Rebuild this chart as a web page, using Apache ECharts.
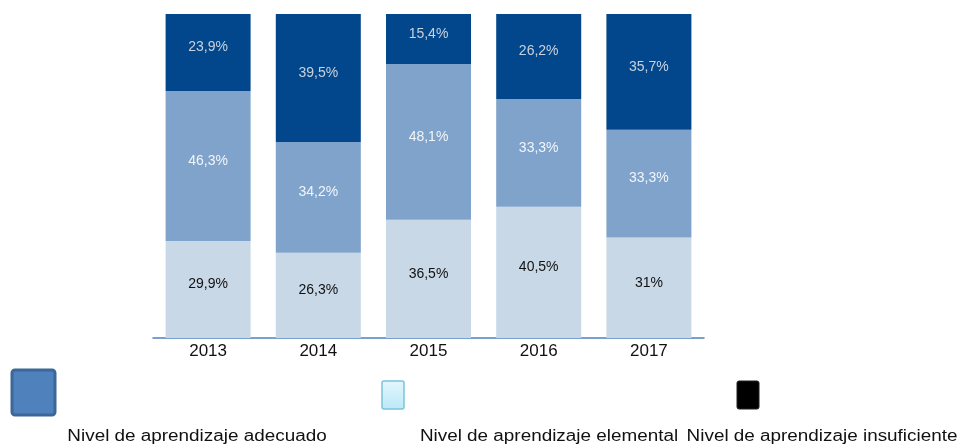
<!DOCTYPE html>
<html>
<head>
<meta charset="utf-8">
<script src="https://cdn.jsdelivr.net/npm/echarts@6/dist/echarts.min.js"></script>
<style>
  body { margin: 0; background: #fff; }
  #chart { width: 957px; height: 445px; }
</style>
</head>
<body>
<div id="chart"></div>
<script>
  const years = ['2013', '2014', '2015', '2016', '2017'];
  const elemental = [29.9, 26.3, 36.5, 40.5, 31];
  const adecuado = [46.3, 34.2, 48.1, 33.3, 33.3];
  const insuficiente = [23.9, 39.5, 15.4, 26.2, 35.7];

  const myChart = echarts.init(document.getElementById('chart'));
  const font = 'Liberation Sans, Arial, sans-serif';

  // etiqueta con coma decimal
  const fmt = function (p) {
    return String(p.value).replace('.', ',') + '%';
  };
  const lbl = function (color) {
    return {
      show: true,
      position: 'inside',
      offset: [0, -5],
      color: color,
      fontSize: 14,
      fontFamily: font,
      formatter: fmt
    };
  };
  const legendText = function (txt, x) {
    return {
      type: 'text',
      x: x, y: 437,
      scaleX: 1.18,
      style: {
        text: txt,
        fill: '#111', fontSize: 16,
        fontFamily: font,
        align: 'center', verticalAlign: 'middle'
      }
    };
  };

  const option = {
    animation: false,
    grid: { left: 153, right: 253, top: 14, bottom: 107 },
    xAxis: {
      type: 'category',
      data: years,
      axisLine: { lineStyle: { color: '#4f81bd', width: 1.5 } },
      axisTick: { show: false },
      axisLabel: {
        color: '#111',
        fontSize: 17,
        margin: 5,
        fontFamily: font
      }
    },
    yAxis: {
      type: 'value',
      min: 0,
      max: 100,
      show: false,
      splitLine: { show: false }
    },
    series: [
      {
        name: 'Nivel de aprendizaje elemental',
        type: 'bar',
        stack: 'total',
        barWidth: 85,
        itemStyle: { color: '#c8d8e7' },
        label: lbl('#111'),
        data: elemental
      },
      {
        name: 'Nivel de aprendizaje adecuado',
        type: 'bar',
        stack: 'total',
        itemStyle: { color: '#7fa3ca' },
        label: lbl('#f2f5f9'),
        data: adecuado
      },
      {
        name: 'Nivel de aprendizaje insuficiente',
        type: 'bar',
        stack: 'total',
        itemStyle: { color: '#02468b' },
        label: lbl('#c9d2de'),
        data: insuficiente
      }
    ],
    graphic: [
      {
        type: 'rect',
        shape: { x: 12, y: 370, width: 43, height: 45, r: 3 },
        style: { fill: '#4f81bd', stroke: '#3c6798', lineWidth: 3 }
      },
      {
        type: 'rect',
        shape: { x: 382, y: 381, width: 22, height: 28, r: 2 },
        style: {
          fill: new echarts.graphic.LinearGradient(0, 0, 0, 1, [
            { offset: 0, color: '#e4f7fd' },
            { offset: 1, color: '#b9e9f7' }
          ]),
          stroke: '#7cc3d8',
          lineWidth: 1.5
        }
      },
      {
        type: 'rect',
        shape: { x: 737, y: 381, width: 22, height: 28, r: 2 },
        style: { fill: '#000', stroke: '#222', lineWidth: 1 }
      },
      legendText('Nivel de aprendizaje adecuado', 197),
      legendText('Nivel de aprendizaje elemental', 549),
      legendText('Nivel de aprendizaje insuficiente', 822)
    ]
  };

  myChart.setOption(option);
</script>
</body>
</html>
